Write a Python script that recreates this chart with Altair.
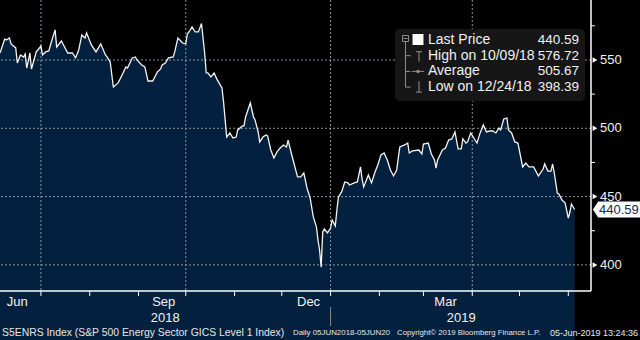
import altair as alt
import pandas as pd

# ---------------- data ----------------
START = "2018-06-05"
# calendar-day offsets from START and S5ENRS closing values
day_offsets = [0, 3, 4, 6, 7, 10, 11, 13, 15, 16,
               17, 19, 20, 23, 24, 26, 27, 29, 31, 33,
               35, 36, 39, 41, 43, 46, 48, 50, 52, 54,
               55, 58, 61, 64, 67, 68, 70, 72, 75, 76,
               80, 81, 84, 86, 87, 90, 92, 94, 97, 100,
               102, 103, 105, 107, 110, 111, 113, 116, 118, 119,
               120, 122, 124, 126, 128, 130, 131, 132, 134, 136,
               138, 141, 142, 144, 146, 148, 150, 151, 154, 155,
               156, 159, 161, 162, 164, 165, 167, 169, 170, 172,
               174, 176, 178, 180, 182, 183, 185, 187, 189, 191,
               193, 195, 197, 199, 201, 202, 203, 204, 205, 206,
               208, 210, 211, 213, 214, 215, 217, 219, 221, 222,
               225, 227, 229, 230, 231, 234, 236, 238, 240, 242,
               244, 246, 248, 250, 252, 253, 254, 257, 259, 260,
               262, 266, 268, 269, 272, 274, 276, 277, 278, 281,
               283, 285, 287, 289, 291, 293, 294, 296, 297, 299,
               301, 303, 305, 307, 309, 311, 313, 315, 317, 318,
               320, 322, 323, 325, 327, 329, 332, 334, 336, 339,
               342, 345, 346, 348, 350, 351, 352, 354, 355, 357,
               359, 361, 362, 363, 365]
values = [555.1, 565.4, 564.6, 566.1, 561.7, 558.8, 547.8, 553.7, 552.2, 554.4,
          544.1, 555.1, 543.4, 555.9, 557.3, 560.2, 553.7, 555.9, 556.6, 564.6,
          572.0, 559.5, 563.9, 559.5, 555.1, 555.1, 551.5, 557.3, 568.3, 566.1,
          569.8, 561.0, 555.9, 561.7, 553.7, 552.2, 548.5, 530.2, 533.2, 535.4,
          544.9, 544.1, 551.5, 552.2, 550.0, 546.3, 544.9, 534.6, 534.6, 541.2,
          543.4, 546.3, 547.8, 551.5, 552.2, 555.9, 566.0, 562.4, 561.7, 569.0,
          570.5, 574.2, 570.5, 570.5, 576.72, 555.1, 540.5, 540.5, 537.6, 540.5,
          535.4, 529.5, 519.3, 493.6, 496.6, 492.9, 493.6, 498.8, 501.7, 501.7,
          508.3, 518.5, 508.3, 506.1, 497.3, 490.0, 493.6, 495.1, 494.4, 484.1,
          478.3, 482.7, 485.6, 487.8, 486.3, 491.4, 481.9, 473.1, 464.4, 464.4,
          467.3, 456.3, 449.0, 435.1, 427.8, 418.2, 410.9, 398.39, 424.1, 426.3,
          423.4, 427.0, 432.9, 428.5, 440.2, 449.7, 453.4, 460.7, 460.0, 458.5,
          460.0, 460.7, 471.7, 462.9, 457.0, 465.8, 460.0, 467.3, 473.1, 480.5,
          481.9, 476.8, 469.5, 465.1, 469.5, 478.3, 486.3, 487.8, 489.2, 481.9,
          483.4, 484.1, 481.2, 488.5, 489.2, 481.2, 476.8, 470.9, 476.8, 484.1,
          485.6, 491.4, 492.2, 497.3, 484.9, 484.9, 492.2, 489.2, 490.0, 496.6,
          492.9, 489.2, 496.6, 502.4, 497.3, 498.0, 498.0, 496.6, 500.2, 498.8,
          506.8, 507.5, 498.8, 496.6, 490.0, 489.2, 471.7, 474.6, 471.7, 471.7,
          465.1, 470.2, 473.9, 468.7, 468.7, 473.9, 468.0, 452.6, 451.9, 447.5,
          445.3, 434.3, 438.7, 444.6, 440.59]

month_ticks = ["2018-07-01", "2018-08-01", "2018-09-01", "2018-10-01", "2018-11-01",
               "2018-12-01", "2019-01-01", "2019-02-01", "2019-03-01", "2019-04-01",
               "2019-05-01", "2019-06-01"]
quarter_grid = ["2018-07-01", "2018-10-01", "2019-01-01", "2019-04-01"]
month_labels = ["Jun", "Sep", "Dec", "Mar"]
month_label_dates = ["2018-06-16", "2018-09-17", "2018-12-18", "2019-03-15"]
year_labels = ["2018", "2019"]
year_label_dates = ["2018-09-18", "2019-03-25"]
year_break = ["2019-01-01"]
y_major = [400, 450, 500, 550]
y_minor = [425, 475, 525, 575]
legend_labels = ["Last Price", "High on 10/09/18", "Average", "Low on 12/24/18"]
legend_values = ["440.59", "576.72", "505.67", "398.39"]
last_price = [440.59]
footer_texts = ["S5ENRS Index (S&P 500 Energy Sector GICS Level 1 Index)",
                "Daily 05JUN2018-05JUN20",
                "Copyright\u00a9 2019 Bloomberg Finance L.P.",
                "05-Jun-2019 13:24:36"]

# ---------------- style / layout ----------------
W, H = 591, 291
FONT = "Liberation Sans"
TXT = "#f2f2f2"
NAVY = "#03203f"
GRID = "#8d939c"
TREE = "#8f8f8f"

xs = alt.Scale(type="utc", nice=False,
               domain=[alt.DateTime(year=2018, month=6, date=5, utc=True),
                       alt.DateTime(year=2019, month=6, date=15, hours=10, utc=True)])
ys = alt.Scale(domain=[380.9, 593.9], nice=False, zero=False)

series = pd.DataFrame({
    "date": (pd.Timestamp(START) + pd.to_timedelta(day_offsets, unit="D")).strftime("%Y-%m-%d"),
    "value": values,
})


def one():
    return pd.DataFrame({"k": [0]})


def X(field):
    return alt.X(field, type="temporal", scale=xs, axis=None)


def Y(field):
    return alt.Y(field, type="quantitative", scale=ys, axis=None)


layers = []

# area + gridlines + line
layers.append(alt.Chart(series).mark_area(color=NAVY).encode(
    x=X("date"), y=Y("value"), y2=alt.value(H)))
layers.append(alt.Chart(pd.DataFrame({"v": y_major})).mark_rule(
    color=GRID, strokeDash=[2, 2], strokeWidth=1).encode(y=Y("v")))
layers.append(alt.Chart(pd.DataFrame({"d": quarter_grid})).mark_rule(
    color=GRID, strokeDash=[2, 2], strokeWidth=1).encode(x=X("d")))
layers.append(alt.Chart(series).mark_line(color="#f4f4f4", strokeWidth=1.3).encode(
    x=X("date"), y=Y("value")))

# axis lines
layers.append(alt.Chart(one()).mark_rule(color="white", strokeWidth=1.5).encode(
    x=alt.value(W), y=alt.value(0), y2=alt.value(H)))
layers.append(alt.Chart(one()).mark_rule(color="white", strokeWidth=1.5).encode(
    x=alt.value(0), x2=alt.value(W), y=alt.value(H)))

# x ticks and labels
layers.append(alt.Chart(pd.DataFrame({"d": month_ticks})).mark_rule(
    color="white", strokeWidth=1).encode(x=X("d"), y=alt.value(H), y2=alt.value(H + 5)))
layers.append(alt.Chart(pd.DataFrame({"d": month_label_dates, "t": month_labels})).mark_text(
    font=FONT, fontSize=13, color=TXT, align="center", baseline="middle").encode(
    x=X("d"), y=alt.value(302), text="t:N"))
layers.append(alt.Chart(pd.DataFrame({"d": year_label_dates, "t": year_labels})).mark_text(
    font=FONT, fontSize=13, color=TXT, align="center", baseline="middle").encode(
    x=X("d"), y=alt.value(318), text="t:N"))
layers.append(alt.Chart(pd.DataFrame({"d": year_break})).mark_rule(
    color="#8a8a8a", strokeWidth=1).encode(x=X("d"), y=alt.value(307), y2=alt.value(326)))

# y ticks and labels (right side)
layers.append(alt.Chart(pd.DataFrame({"v": y_minor})).mark_rule(
    color="white", strokeWidth=1).encode(y=Y("v"), x=alt.value(W), x2=alt.value(W + 4)))
layers.append(alt.Chart(pd.DataFrame({"v": y_major})).mark_point(
    shape="triangle-right", filled=True, color="white", opacity=1, size=30).encode(
    y=Y("v"), x=alt.value(W + 4)))
layers.append(alt.Chart(pd.DataFrame({"v": y_major})).mark_text(
    font=FONT, fontSize=13, color=TXT, align="left", baseline="middle").encode(
    y=Y("v"), x=alt.value(W + 9), text="v:Q"))

# last price tag
tag_path = "M -1 0 L -0.78 -0.34 L 1 -0.34 L 1 0.34 L -0.78 0.34 Z"
lp = pd.DataFrame({"v": last_price})
layers.append(alt.Chart(lp).mark_point(
    shape=tag_path, size=47 * 47, filled=True, color="white", opacity=1, strokeWidth=0).encode(
    y=Y("v"), x=alt.value(616.5)))
layers.append(alt.Chart(lp).mark_text(
    font=FONT, fontSize=13, color="#0c2a55", align="left", baseline="middle", dy=1).encode(
    y=Y("v"), x=alt.value(599), text=alt.Text("v:Q", format=".2f")))

# legend box
layers.append(alt.Chart(one()).mark_rect(color="#161616", cornerRadius=5).encode(
    x=alt.value(395), x2=alt.value(585), y=alt.value(29), y2=alt.value(101)))
row_y = [40 + 15.7 * i for i in range(len(legend_labels))]
for i, (lab, val) in enumerate(zip(legend_labels, legend_values)):
    ry = row_y[i]
    layers.append(alt.Chart(one()).mark_text(
        font=FONT, fontSize=14, color=TXT, align="left", baseline="middle").encode(
        x=alt.value(428), y=alt.value(ry), text=alt.value(lab)))
    layers.append(alt.Chart(one()).mark_text(
        font=FONT, fontSize=13.5, color=TXT, align="right", baseline="middle").encode(
        x=alt.value(579), y=alt.value(ry), text=alt.value(val)))


def seg(x1, y1, x2, y2, color=TREE, w=1):
    return alt.Chart(one()).mark_rule(color=color, strokeWidth=w).encode(
        x=alt.value(x1), y=alt.value(y1), x2=alt.value(x2), y2=alt.value(y2))


# tree + icons
layers.append(alt.Chart(one()).mark_square(
    size=36, filled=False, color=TREE, strokeWidth=1, opacity=1).encode(
    x=alt.value(405.5), y=alt.value(38.5)))
layers.append(seg(403.5, 38.5, 407.5, 38.5))
layers.append(alt.Chart(one()).mark_square(
    size=120, filled=True, color="white", opacity=1).encode(x=alt.value(418), y=alt.value(39.5)))
layers.append(seg(405.5, 41.5, 405.5, row_y[3]))
for i in (1, 2, 3):
    layers.append(seg(405.5, row_y[i], 410.5, row_y[i]))
# high icon
layers.append(seg(416, row_y[1] - 4, 422, row_y[1] - 4))
layers.append(seg(419, row_y[1] - 4, 419, row_y[1] + 6))
# average icon
layers.append(seg(412, row_y[2], 424, row_y[2]))
layers.append(alt.Chart(one()).mark_circle(size=12, color=TREE, opacity=1).encode(
    x=alt.value(418), y=alt.value(row_y[2])))
# low icon
layers.append(seg(419, row_y[3] - 6, 419, row_y[3] + 5))
layers.append(seg(416, row_y[3] + 5, 422, row_y[3] + 5))

# footer
footer_x = [2, 293, 397, 638]
footer_align = ["left", "left", "left", "right"]
footer_size = [10.4, 7.9, 7.8, 9]
for t, fx, al, fs in zip(footer_texts, footer_x, footer_align, footer_size):
    layers.append(alt.Chart(one()).mark_text(
        font=FONT, fontSize=fs, color="#e6e6e6", align=al, baseline="middle").encode(
        x=alt.value(fx), y=alt.value(333), text=alt.value(t)))

chart = alt.layer(*layers).properties(
    width=W, height=H, background="black",
    padding={"left": 0, "top": 0, "right": 640 - W, "bottom": 340 - H},
    autosize="none",
).configure_view(stroke=None)

chart.save("out.html", embed_options={"renderer": "svg", "actions": False})
